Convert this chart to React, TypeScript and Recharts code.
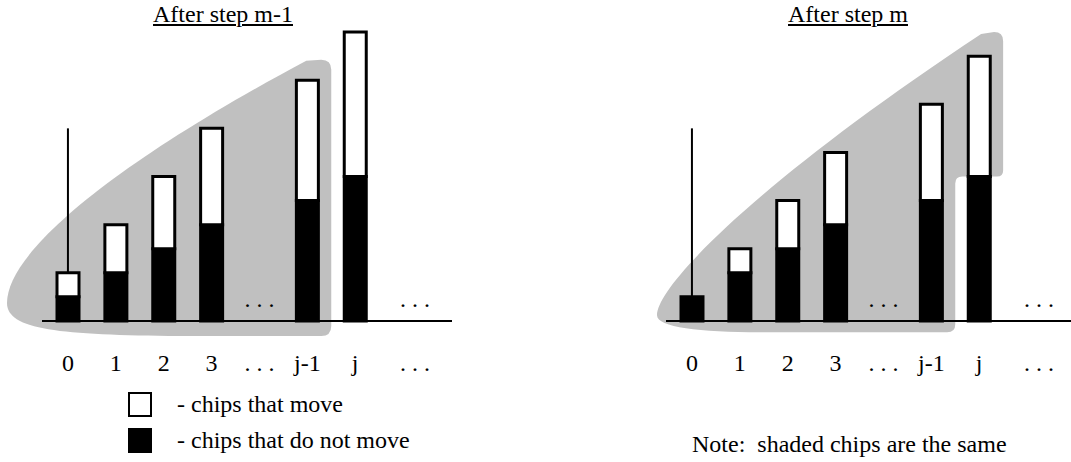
import { BarChart, Bar, XAxis, YAxis, ReferenceArea, ReferenceLine, ReferenceDot, Legend } from 'recharts';

const FONT = "'Liberation Serif', 'Times New Roman', serif";
const GREY = '#c0c0c0';

const categories = ['0', '1', '2', '3', 'gap', 'j-1', 'j', 'more'];
const tickLabels = ['0', '1', '2', '3', '. . .', 'j-1', 'j', '. . .'];

// piles after step m-1
const stayBefore = [1, 2, 3, 4, null, 5, 6, null];
const moveBefore = [1, 2, 3, 4, null, 5, 6, null];
// piles after step m
const stayAfter = [1, 2, 3, 4, null, 5, 6, null];
const moveAfter = [0, 1, 2, 3, null, 4, 5, null];

const stemTop = 8;
const dotsLevel = 0.66;
const shadeBefore = { from: '0', to: 'j-1', top: 10.85, bottom: -0.63 };
const shadeAfter = { from: '0', to: 'j', top: 12, bottom: -0.47 };

const textStyle = { fontFamily: FONT, fontSize: 24, fill: '#000' };

function CategoryTick({ x, y, payload }: any) {
  const i = categories.indexOf(payload.value);
  const shift = i === categories.length - 1 ? 12 : 0;
  return (
    <text x={x + shift} y={y + 26} textAnchor="middle" style={textStyle}>
      {tickLabels[i]}
    </text>
  );
}

function DotsMark({ cx, cy, shift = 0 }: any) {
  return (
    <text x={cx + shift} y={cy + 2} textAnchor="middle" style={textStyle}>
      . . .
    </text>
  );
}

// grey blob round the piles that stay together
function ShadeBefore({ x, y, width, height }: any) {
  const L = x, R = x + width, T = y, B = y + height;
  const d = [
    `M${L - 37},${B - 33}`,
    `C${L - 37},${B - 86} ${L + 76},${B - 176} ${R - 25},${T + 1}`,
    `L${R - 10},${T}`,
    `Q${R},${T} ${R},${T + 10}`,
    `L${R},${B - 10}`,
    `Q${R},${B} ${R - 10},${B}`,
    `L${L + 136},${B}`,
    `C${L + 16},${B - 1} ${L - 37},${B - 6} ${L - 37},${B - 33}`,
    'Z',
  ].join(' ');
  return <path d={d} fill={GREY} />;
}

function ShadeAfter({ x, y, width, height }: any) {
  const L = x, R = x + width, T = y, B = y + height;
  const band = width / 7;
  const nx = R - band;
  const ny = T + ((shadeAfter.top - (stayAfter[6] ?? 0)) / (shadeAfter.top - shadeAfter.bottom)) * height;
  const d = [
    `M${L - 11},${B - 17}`,
    `C${L - 11},${B - 47} ${L + 92},${B - 152} ${R - 22},${T + 2}`,
    `L${R - 9},${T}`,
    `Q${R},${T} ${R},${T + 9}`,
    `L${R},${ny - 6}`,
    `Q${R},${ny} ${R - 6},${ny}`,
    `L${nx + 7},${ny}`,
    `Q${nx},${ny} ${nx},${ny + 7}`,
    `L${nx},${B - 8}`,
    `Q${nx},${B} ${nx - 8},${B}`,
    `L${L + 92},${B}`,
    `C${L + 32},${B} ${L - 11},${B - 5} ${L - 11},${B - 17}`,
    'Z',
  ].join(' ');
  return <path d={d} fill={GREY} />;
}

function ChipsLegend({ payload }: any) {
  const items = [...(payload ?? [])].reverse();
  return (
    <div style={{ fontFamily: FONT, fontSize: 24 }}>
      {items.map((it: any) => (
        <div key={it.value} style={{ display: 'flex', alignItems: 'center', height: 35.5 }}>
          <span style={{ width: 20, height: 21, border: '2px solid #000', background: it.color, marginRight: 25 }} />
          <span style={{ whiteSpace: 'pre' }}>{it.value}</span>
        </div>
      ))}
    </div>
  );
}

type PanelProps = {
  stay: (number | null)[],
  move: (number | null)[],
  shade: { from: string, to: string, top: number, bottom: number },
  Shade: (p: any) => any,
  withLegend?: boolean,
}

function Panel({ stay, move, shade, Shade, withLegend }: PanelProps) {
  const rows = categories.map((cat, i) => ({ cat, stay: stay[i], move: move[i] }));
  const pile0 = (stay[0] ?? 0) + (move[0] ?? 0);
  return (
    <BarChart width={460} height={462} data={rows} margin={{ top: 8, right: 8, left: 42, bottom: 87 }}>
      <XAxis
        dataKey="cat"
        axisLine={false}
        tickLine={false}
        tickSize={0}
        tickMargin={0}
        height={30}
        interval={0}
        padding={{ left: 2, right: 25 }}
        tick={(p: any) => <CategoryTick {...p} />}
      />
      <YAxis hide type="number" domain={[-1, 13]} />
      <ReferenceArea
        x1={shade.from}
        x2={shade.to}
        y1={shade.bottom}
        y2={shade.top}
        ifOverflow="visible"
        shape={(p: any) => <Shade {...p} />}
      />
      <Bar dataKey="stay" name="- chips that do not move" stackId="pile" fill="#000" stroke="#000" strokeWidth={3} barSize={22} isAnimationActive={false} />
      <Bar dataKey="move" name="- chips that move" stackId="pile" fill="#fff" stroke="#000" strokeWidth={3} barSize={22} isAnimationActive={false} />
      <ReferenceLine y={0} stroke="#000" strokeWidth={2} />
      <ReferenceLine segment={[{ x: '0', y: stemTop }, { x: '0', y: pile0 }]} stroke="#000" strokeWidth={2} />
      <ReferenceDot x="gap" y={dotsLevel} r={0} shape={(p: any) => <DotsMark {...p} />} />
      <ReferenceDot x="more" y={dotsLevel} r={0} shape={(p: any) => <DotsMark {...p} shift={12} />} />
      {withLegend && (
        <Legend
          layout="vertical"
          align="center"
          verticalAlign="middle"
          content={(p: any) => <ChipsLegend {...p} />}
          wrapperStyle={{ left: 128, top: 386.75, width: 'auto', height: 'auto' }}
        />
      )}
    </BarChart>
  );
}

const titleStyle = {
  position: 'absolute' as const,
  top: 1.6,
  transform: 'translateX(-50%)',
  fontFamily: FONT,
  fontSize: 24,
  lineHeight: '24px',
  textDecoration: 'underline',
  whiteSpace: 'nowrap' as const,
};

export default function App() {
  return (
    <div style={{ position: 'fixed', left: 0, top: 0, width: 1071, height: 462, overflow: 'hidden', background: '#fff' }}>
      <div style={{ position: 'absolute', left: 0, top: 0 }}>
        <Panel stay={stayBefore} move={moveBefore} shade={shadeBefore} Shade={ShadeBefore} withLegend />
      </div>
      <div style={{ position: 'absolute', left: 624, top: 0 }}>
        <Panel stay={stayAfter} move={moveAfter} shade={shadeAfter} Shade={ShadeAfter} />
      </div>
      <div style={{ ...titleStyle, left: 223 }}>After step m-1</div>
      <div style={{ ...titleStyle, left: 848 }}>After step m</div>
      <div style={{ position: 'absolute', left: 692, top: 432, fontFamily: FONT, fontSize: 24, lineHeight: '24px', whiteSpace: 'pre' }}>
        Note:  shaded chips are the same
      </div>
    </div>
  );
}
